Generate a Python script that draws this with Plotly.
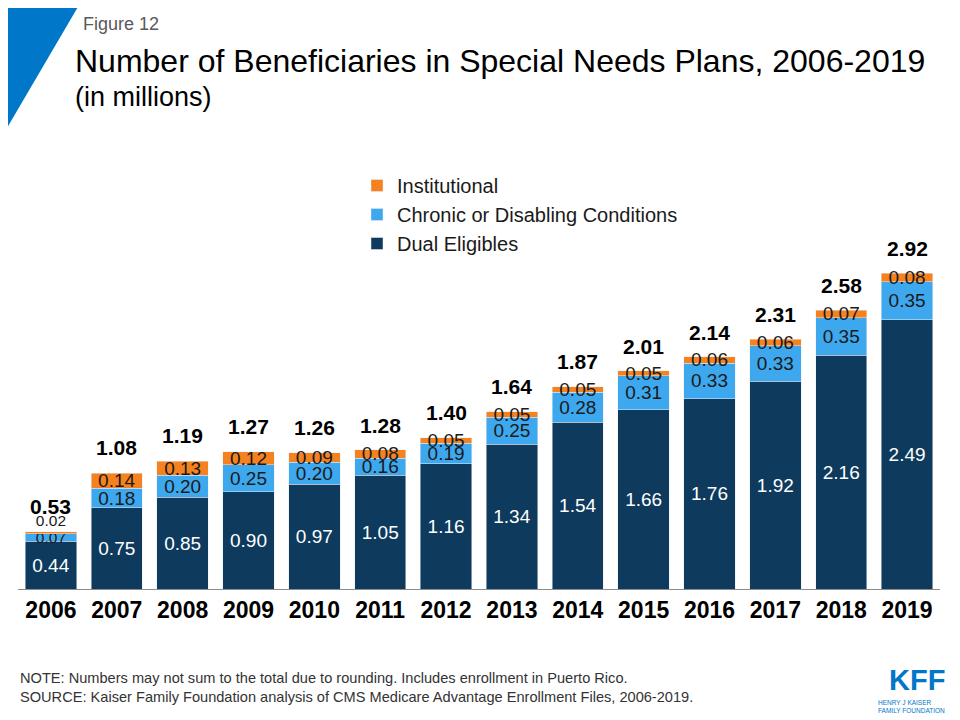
import plotly.graph_objects as go

years = ['2006', '2007', '2008', '2009', '2010', '2011', '2012',
         '2013', '2014', '2015', '2016', '2017', '2018', '2019']
dual = [0.44, 0.75, 0.85, 0.90, 0.97, 1.05, 1.16, 1.34, 1.54, 1.66, 1.76, 1.92, 2.16, 2.49]
chronic = [0.07, 0.18, 0.20, 0.25, 0.20, 0.16, 0.19, 0.25, 0.28, 0.31, 0.33, 0.33, 0.35, 0.35]
institutional = [0.02, 0.14, 0.13, 0.12, 0.09, 0.08, 0.05, 0.05, 0.05, 0.05, 0.06, 0.06, 0.07, 0.08]
totals = [0.53, 1.08, 1.19, 1.27, 1.26, 1.28, 1.40, 1.64, 1.87, 2.01, 2.14, 2.31, 2.58, 2.92]

FONT = 'Liberation Sans, Arial, sans-serif'
W, H = 960, 720
OFF = 8  # page offset of the figure
L, R, T, B = 10, 28, 235, 139


def px(x):  # page pixel -> paper x
    return (x - OFF - L) / (W - L - R)


def py(y):  # page pixel -> paper y
    return (H - B - (y - OFF)) / (H - T - B)


small = [15.5] + [19] * (len(years) - 1)

fig = go.Figure()
fig.add_trace(go.Bar(
    x=years, y=dual, name='Dual Eligibles',
    marker=dict(color='#0E3A5D'),
    text=[f'{v:.2f}' for v in dual],
    textposition='inside', insidetextanchor='middle',
    textfont=dict(color='white', size=19, family=FONT),
    constraintext='none', textangle=0, hoverinfo='x+y'
))
fig.add_trace(go.Bar(
    x=years, y=chronic, name='Chronic or Disabling Conditions',
    marker=dict(color='#3DA8EE'),
    text=[f'{v:.2f}' for v in chronic],
    textposition='inside', insidetextanchor='middle',
    textfont=dict(color='#1a1a1a', size=small, family=FONT),
    constraintext='none', textangle=0, hoverinfo='x+y'
))
fig.add_trace(go.Bar(
    x=years, y=institutional, name='Institutional',
    marker=dict(color='#F5821F'),
    text=[f'{v:.2f}' for v in institutional],
    textposition=['outside'] + ['inside'] * (len(years) - 1),
    insidetextanchor='middle',
    textfont=dict(color='#1a1a1a', size=small, family=FONT),
    outsidetextfont=dict(color='#1a1a1a', size=small, family=FONT),
    constraintext='none', textangle=0, cliponaxis=False, hoverinfo='x+y'
))

# totals above each bar (x by category index)
for i, tot in enumerate(totals):
    fig.add_annotation(x=i, y=tot, text=f'<b>{tot:.2f}</b>', showarrow=False,
                       yanchor='middle', yshift=25,
                       font=dict(size=21, color='black', family=FONT))

# corner triangle
fig.add_shape(type='path', xref='paper', yref='paper',
              path=f'M {px(0)},{py(0)} L {px(82)},{py(0)} L {px(0)},{py(140)} Z',
              fillcolor='#0077C8', line=dict(width=0), layer='above')

fig.add_annotation(xref='paper', yref='paper', x=px(81), y=py(24), text='Figure 12',
                   showarrow=False, xanchor='left', yanchor='middle',
                   font=dict(size=18, color='#595959', family=FONT))
fig.add_annotation(xref='paper', yref='paper', x=px(73), y=py(61),
                   text='Number of Beneficiaries in Special Needs Plans, 2006-2019',
                   showarrow=False, xanchor='left', yanchor='middle',
                   font=dict(size=32, color='black', family=FONT))
fig.add_annotation(xref='paper', yref='paper', x=px(73), y=py(97), text='(in millions)',
                   showarrow=False, xanchor='left', yanchor='middle',
                   font=dict(size=27, color='black', family=FONT))
fig.add_annotation(xref='paper', yref='paper', x=px(18), y=py(678),
                   text='NOTE: Numbers may not sum to the total due to rounding. Includes enrollment in Puerto Rico.',
                   showarrow=False, xanchor='left', yanchor='middle',
                   font=dict(size=14.6, color='#333333', family=FONT))
fig.add_annotation(xref='paper', yref='paper', x=px(18), y=py(697),
                   text='SOURCE: Kaiser Family Foundation analysis of CMS Medicare Advantage Enrollment Files, 2006-2019.',
                   showarrow=False, xanchor='left', yanchor='middle',
                   font=dict(size=14.6, color='#333333', family=FONT))
# logo text
fig.add_annotation(xref='paper', yref='paper', x=px(947), y=py(680), text='<b>KFF</b>',
                   showarrow=False, xanchor='right', yanchor='middle',
                   font=dict(size=29, color='#0077C8', family=FONT))
fig.add_annotation(xref='paper', yref='paper', x=px(947), y=py(706),
                   text='HENRY J KAISER<br>FAMILY FOUNDATION',
                   showarrow=False, xanchor='right', yanchor='middle', align='left',
                   font=dict(size=6.5, color='#0077C8', family=FONT))

fig.update_layout(
    width=W, height=H,
    margin=dict(l=L, r=R, t=T, b=B, autoexpand=False),
    barmode='stack', bargap=0.22,
    plot_bgcolor='white', paper_bgcolor='white',
    font=dict(family=FONT, color='black'),
    showlegend=True,
    legend=dict(x=px(357), y=py(166), xanchor='left', yanchor='top',
                traceorder='reversed', font=dict(size=20, color='#1a1a1a'),
                itemwidth=30, tracegroupgap=0, bgcolor='rgba(0,0,0,0)'),
    xaxis=dict(type='category', showline=True, linecolor='#8c8c8c', linewidth=1,
               automargin=False, ticks='',
               tickfont=dict(size=23, color='black', family=FONT),
               tickprefix='<b>', ticksuffix='</b>', showgrid=False),
    yaxis=dict(range=[0, 3.2], visible=False, showgrid=False, zeroline=False,
               automargin=False),
)

fig.write_html('out.html')
